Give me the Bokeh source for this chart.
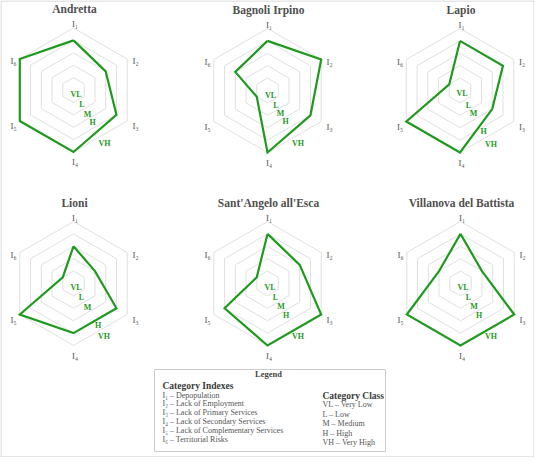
import math
from bokeh.plotting import figure
from bokeh.models import Range1d
from bokeh.core.properties import value
from bokeh.embed import file_html
from bokeh.resources import INLINE

# ---------------- data ----------------
towns = ["Andretta", "Bagnoli Irpino", "Lapio",
         "Lioni", "Sant'Angelo all'Esca", "Villanova del Battista"]
andretta = [4, 3, 4, 5, 5, 5]
bagnoli_irpino = [4, 5, 4, 5, 1, 3]
lapio = [4, 4, 3, 5, 5, 1]
lioni = [3, 2, 4, 4, 5, 1]
santangelo = [4, 3, 5, 5, 4, 1]
villanova = [4, 2, 5, 5, 5, 2]
series = [andretta, bagnoli_irpino, lapio, lioni, santangelo, villanova]
axis_labels = ["I₁", "I₂", "I₃", "I₄", "I₅", "I₆"]
class_labels = ["VL", "L", "M", "H", "VH"]
levels = [1, 2, 3, 4, 5]
index_legend = ["I₁ – Depopulation", "I₂ – Lack of Employment",
                "I₃ – Lack of Primary Services", "I₄ – Lack of Secondary Services",
                "I₅ – Lack of Complementary Services", "I₆ – Territorial Risks"]
class_legend = ["VL – Very Low", "L – Low", "M – Medium", "H – High", "VH – Very High"]

# ---------------- layout ----------------
W, H = 534, 457
centers = [(73, 89.5), (267, 90), (459.5, 90),
           (73, 283), (267, 283), (460, 283)]
R = 62.0
RMAX = 5
label_off = [(1.5, -66), (62, -29), (62, 36), (1.5, 72), (-60, 36), (-60, -29)]
ring_label_r = [[5, 17, 28, 38, 62], [6, 17, 26, 36, 61], [4, 17, 27, 47, 62],
                [5, 16, 28, 49, 61], [5, 16, 27, 37, 61], [5, 16, 27, 37, 61]]
angles = [90, 30, -30, -90, -150, 150]
SERIF = value("Liberation Serif")
GREEN = "#1f9a1f"

p = figure(width=W, height=H, x_range=Range1d(0, W), y_range=Range1d(H, 0),
           x_axis_location=None, y_axis_location=None, toolbar_location=None,
           output_backend="svg", min_border=0)
p.grid.visible = False
p.outline_line_color = None
p.background_fill_color = "white"


def pt(c, r, ang):
    a = math.radians(ang)
    return c[0] + r * math.cos(a), c[1] - r * math.sin(a)


# outer frame
p.quad(left=[0.5], right=[W - 0.5], top=[0.5], bottom=[H - 0.5],
       fill_color=None, line_color="#cfcfcf", line_width=1)

for i, (town, vals) in enumerate(zip(towns, series)):
    c = centers[i]
    # grid hexagons
    gx, gy = [], []
    for lv in levels:
        xs, ys = [], []
        for ang in angles + [angles[0]]:
            x, y = pt(c, R * lv / RMAX, ang)
            xs.append(x)
            ys.append(y)
        gx.append(xs)
        gy.append(ys)
    p.multi_line(gx, gy, line_color="#e0e0e0", line_width=1)
    # data polygon
    xs, ys = [], []
    for v, ang in zip(vals + [vals[0]], angles + [angles[0]]):
        x, y = pt(c, R * v / RMAX, ang)
        xs.append(x)
        ys.append(y)
    p.line(xs, ys, line_color=GREEN, line_width=2.2, line_join="miter")
    # axis labels
    lx = [c[0] + dx for dx, dy in label_off]
    ly = [c[1] + dy for dx, dy in label_off]
    p.text(lx, ly, text=axis_labels, text_font=SERIF, text_font_size="9px",
           text_color="#555555", text_align="center", text_baseline="middle")
    # class labels
    cx_, cy_ = [], []
    for r in ring_label_r[i]:
        x, y = pt(c, r, -60)
        cx_.append(x)
        cy_.append(y)
    p.text(cx_, cy_, text=class_labels, text_font=SERIF, text_font_size="8px",
           text_font_style="bold", text_color=GREEN, text_align="center",
           text_baseline="middle")
    # title
    p.text([c[0] + 1], [c[1] - 81], text=[town], text_font=SERIF,
           text_font_size="11.5px", text_font_style="bold", text_color="#505050",
           text_align="center", text_baseline="middle")

# legend box
p.quad(left=[154], right=[385], top=[369], bottom=[451],
       fill_color="white", line_color="#cccccc", line_width=1)
p.text([268], [373], text=["Legend"], text_font=SERIF, text_font_size="8.5px",
       text_font_style="bold", text_color="#444444", text_align="center",
       text_baseline="middle")
p.text([162], [385.3], text=["Category Indexes"], text_font=SERIF,
       text_font_size="9.5px", text_font_style="bold", text_color="#3a3a3a",
       text_align="left", text_baseline="middle")
p.text([162] * len(index_legend), [394.6 + 8.8 * k for k in range(len(index_legend))],
       text=index_legend, text_font=SERIF, text_font_size="8px",
       text_color="#555555", text_align="left", text_baseline="middle")
p.text([322], [395.3], text=["Category Class"], text_font=SERIF,
       text_font_size="9.5px", text_font_style="bold", text_color="#3a3a3a",
       text_align="left", text_baseline="middle")
p.text([322] * len(class_legend), [404.3 + 9.4 * k for k in range(len(class_legend))],
       text=class_legend, text_font=SERIF, text_font_size="8px",
       text_color="#555555", text_align="left", text_baseline="middle")

open("out.html", "w").write(file_html(p, INLINE))
